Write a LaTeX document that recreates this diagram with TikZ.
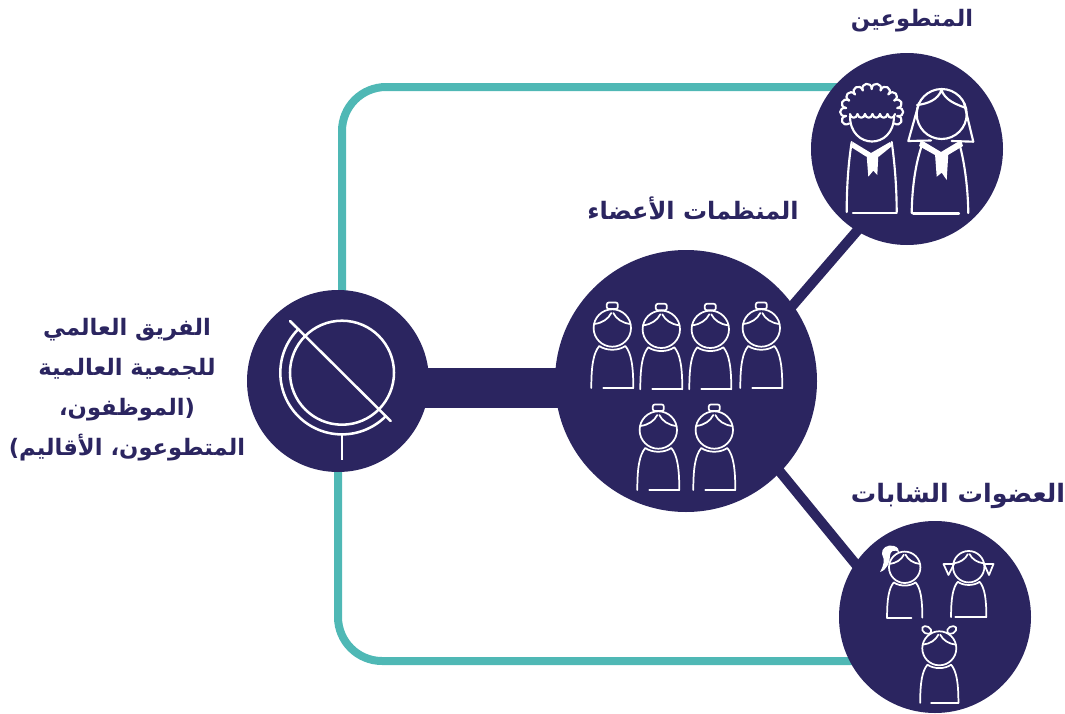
\documentclass[tikz,border=0pt]{standalone}
\usepackage{fontspec}
\usetikzlibrary{backgrounds,calc}
\TeXXeTstate=1
\newfontfamily\arabicfont[Script=Arabic]{DejaVu Sans}
\definecolor{navy}{HTML}{2B2560}
\definecolor{tealc}{HTML}{4FB8B5}
\newcommand\artext[1]{\beginR #1\endR}
\tikzset{
  hub/.style={circle,fill=navy,inner sep=0pt,outer sep=0pt},
  tealline/.style={draw=tealc,line width=6pt,rounded corners=33pt},
  darkline/.style={draw=navy,line width=7.5pt},
  barline/.style={draw=navy,line width=30pt},
  wl/.style={draw=white,line width=1.3pt,line cap=round,line join=round},
  wg/.style={draw=white,line width=1.9pt,line cap=round,line join=round},
  lab/.style={text=navy,font=\arabicfont\bfseries\fontsize{17}{30}\selectfont,align=center,inner sep=0pt}
}
\newcommand\girlfig[5]{%
\begin{scope}[shift={(#1,#2)},scale=#3]
 \draw[wl] (0,0) circle (18.7);
 \draw[wl] (-18,-4) .. controls (-10,-5) and (-4,-9) .. (-1,-15);
 \draw[wl] (18,-4) .. controls (10,-5) and (4,-9) .. (1,-15);
 \draw[wl] (-21,60) .. controls (-21,38) and (-19,25) .. (-13,18) .. controls (-6,23) and (6,23) .. (13,18) .. controls (19,25) and (21,38) .. (21,60);
 \draw[wl] (#4,60) -- (#5,60);
\end{scope}}
\newcommand\bunfig[2]{\draw[wl,rounded corners=1.5pt] (#1-5.5,#2-25.5) rectangle (#1+5.5,#2-19);}
\begin{document}
\begin{tikzpicture}[x=.75pt,y=-.75pt]
\useasboundingbox (0,0) rectangle (1065,714);
\node[hub,minimum size=136.5pt] (globe) at (338,381) {};
\node[hub,minimum size=196.5pt] (members) at (686,381) {};
\node[hub,minimum size=144pt] (vol) at (907,149) {};
\node[hub,minimum size=144pt] (girls) at (935,617) {};
\begin{pgfonlayer}{background}
 \draw[tealline] ([xshift=3pt]globe.center) |- ([yshift=46.5pt]vol.center);
 \draw[tealline] (globe.center) |- ([yshift=-33pt]girls.center);
 \draw[barline] ([yshift=-5.25pt]globe.center) -- ([yshift=-5.25pt]members.center);
 \draw[darkline] ([yshift=-36pt]members.center) -- ([yshift=-18pt]vol.center);
 \draw[darkline] ([yshift=18pt]members.center) -- ([yshift=-33pt]girls.center);
\end{pgfonlayer}
% globe
\draw[wg] (342,372.7) circle (52);
\draw[wg] (290,321) -- (390.7,421);
\draw[wg,line cap=butt] (342,434) -- (342,460);
\draw[wg] plot[domain=45:225,samples=60] ({342+61.7*cos(\x)},{372.7+61.7*sin(\x)});
% members
\foreach \hx/\hy in {612.3/328,661.3/329.3,710.3/329.3,761.3/328,658.3/430,714.3/430}{
 \girlfig{\hx}{\hy}{1}{-9}{21}
 \bunfig{\hx}{\hy}
}
% girls
\girlfig{904.7}{567.3}{.84}{-21}{8}
\girlfig{968.7}{566.7}{.84}{-16}{21}
\girlfig{939.3}{648.3}{.91}{-9}{21}
\fill[white] (880,572) .. controls (884,565) and (885,560) .. (882,554) .. controls (881,548) and (888,544) .. (894,546) .. controls (898,547) and (899,550) .. (899,552) .. controls (894,549) and (890,551) .. (890,556) .. controls (890,562) and (887,570) .. (880,572) -- cycle;
\draw[wl] (943.5,564) -- (954,564) -- (948.5,575) -- cycle;
\draw[wl] (984,564) -- (993.5,564) -- (989,575) -- cycle;
\draw[wl,rotate around={-30:(926.7,630)}] (926.7,630) ellipse (5 and 3.5);
\draw[wl,rotate around={30:(951.7,630)}] (951.7,630) ellipse (5 and 3.5);
% volunteers
\begin{scope}[wl,line width=1.6pt]
 % curly outline
 \foreach \a in {150,170,...,370}{
  \draw ({871.7+26*cos(\a)},{112+23*sin(\a)}) .. controls ({871.7+34*cos(\a)},{112+31*sin(\a)}) and ({871.7+34*cos(\a+20)},{112+31*sin(\a+20)}) .. ({871.7+26*cos(\a+20)},{112+23*sin(\a+20)});
 }
 % fringe
 \foreach \fx in {850,857.5,865,872.5,880,887.5}{
  \draw (\fx,114) .. controls (\fx+1,119) and (\fx+6.5,119) .. (\fx+7.5,114);
 }
 \draw (850,116) .. controls (850,150) and (894,150) .. (894,116);
 \draw (851.7,142) .. controls (848,165) and (846.7,190) .. (846.7,212);
 \draw (891.7,142) .. controls (895,165) and (896.7,190) .. (896.7,212);
 \draw (853,213) -- (896.7,213);
 % veil
 \draw (941.7,114) circle (25);
 \draw (917,105) .. controls (927,104) and (938,100) .. (941.5,90) .. controls (945,100) and (955,104) .. (966,108);
 \draw (919,103) -- (908.3,141) -- (931,140.5);
 \draw (964,103) -- (973.3,141.7) -- (951.7,141);
 \draw (921.7,146) .. controls (915,165) and (912,190) .. (911.7,213);
 \draw (960,146) .. controls (965,165) and (968,190) .. (968.3,213);
 \draw (913,213.5) -- (959,213.5);
\end{scope}
\fill[white] (853,142) -- (871,153) -- (890,142) -- (892,146) -- (879,156.5) -- (866,156.5) -- (851,147) -- cycle;
\fill[white] (866.7,156) -- (878.3,156) -- (877.3,175) -- (873.3,170.7) -- (868.3,176.7) -- cycle;
\fill[white] (921,140) -- (941,152) -- (961,140) -- (963,146) -- (948,155) -- (935,155) -- (919,146) -- cycle;
\fill[white] (935,154) -- (948.3,154) -- (946.7,180) -- (941.7,172.7) -- (936.7,176.7) -- cycle;
% labels
\node[lab] (lvol) at (912,21) {\artext{المتطوعين}};
\node[lab,font=\arabicfont\bfseries\fontsize{18}{30}\selectfont] (lmem) at (693,208) {\artext{المنظمات الأعضاء}};
\node[lab,font=\arabicfont\bfseries\fontsize{19}{30}\selectfont] (lgirls) at (958,496) {\artext{العضوات الشابات}};
\node[lab] (lglobe) at (127,390) {\artext{الفريق العالمي}\\\artext{للجمعية العالمية}\\\artext{(الموظفون،}\\\artext{المتطوعون، الأقاليم)}};
\end{tikzpicture}
\end{document}
